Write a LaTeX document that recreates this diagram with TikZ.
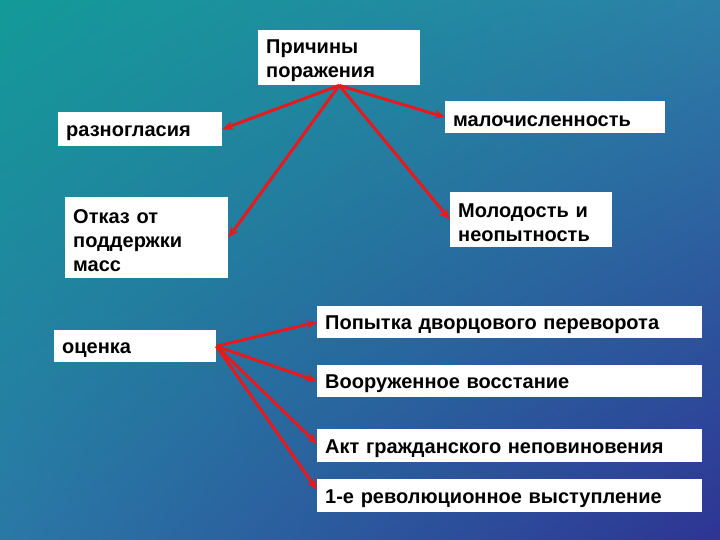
\documentclass[tikz,border=0pt]{standalone}
\usepackage{fontspec}
\setmainfont{Liberation Sans}
\usetikzlibrary{arrows.meta,calc,shadings}
\definecolor{bgTL}{HTML}{139A98}
\definecolor{bgTR}{HTML}{2C80A8}
\definecolor{bgBL}{HTML}{2A78A6}
\definecolor{bgBR}{HTML}{2E3494}
\definecolor{arrred}{HTML}{E8191C}
\newcommand{\toplift}{\rule{0pt}{19.5pt}}
\begin{document}
\begin{tikzpicture}[x=1pt,y=-1pt,
  box/.style={fill=white, draw=none, anchor=north west, inner xsep=8pt, inner ysep=0pt,
    align=left, font=\fontsize{20}{24}\selectfont\bfseries},
  link/.style={draw=arrred, line width=3pt, -{Stealth[length=11pt,width=9pt]}}]
\shade[upper left=bgTL, upper right=bgTR, lower left=bgBL, lower right=bgBR] (0,0) rectangle (720,540);
\useasboundingbox (0,0) rectangle (720,540);
% boxes
\node[box, minimum width=162pt, minimum height=55pt, text width=146pt] (p) at (258,30) {\toplift Причины\\поражения};
\node[box, minimum width=164pt, minimum height=34pt, text width=148pt] (razn) at (58,112) {\toplift разногласия};
\node[box, minimum width=220pt, minimum height=32pt, text width=204pt] (malo) at (445,101) {\toplift малочисленность};
\node[box, minimum width=163pt, minimum height=81pt, text width=147pt] (otkaz) at (65,197) {\toplift Отказ от\\поддержки\\масс};
\node[box, minimum width=162pt, minimum height=55pt, text width=146pt] (molod) at (450,192) {\toplift Молодость и\\неопытность};
\node[box, minimum width=162pt, minimum height=32pt, text width=146pt] (ocenka) at (54,330) {\toplift оценка};
\node[box, minimum width=385pt, minimum height=32pt, text width=369pt] (pop) at (317,306) {\toplift Попытка дворцового переворота};
\node[box, minimum width=385pt, minimum height=32pt, text width=369pt] (voor) at (317,365) {\toplift Вооруженное восстание};
\node[box, minimum width=385pt, minimum height=33pt, text width=369pt] (akt) at (317,429) {\toplift Акт гражданского неповиновения};
\node[box, minimum width=385pt, minimum height=33pt, text width=369pt] (rev) at (317,479) {\toplift 1-е революционное выступление};
% connectors
\draw[link] (p.south) -- (razn.east);
\draw[link] (p.south) -- (malo.west);
\draw[link] (p.south) -- (otkaz.east);
\draw[link] (p.south) -- (molod.west);
\draw[link] (ocenka.east) -- (pop.west);
\draw[link] (ocenka.east) -- (voor.west);
\draw[link] (ocenka.east) -- ($(akt.west)+(0,-2)$);
\draw[link] (ocenka.east) -- ($(rev.west)+(0,-6)$);
\end{tikzpicture}
\end{document}
